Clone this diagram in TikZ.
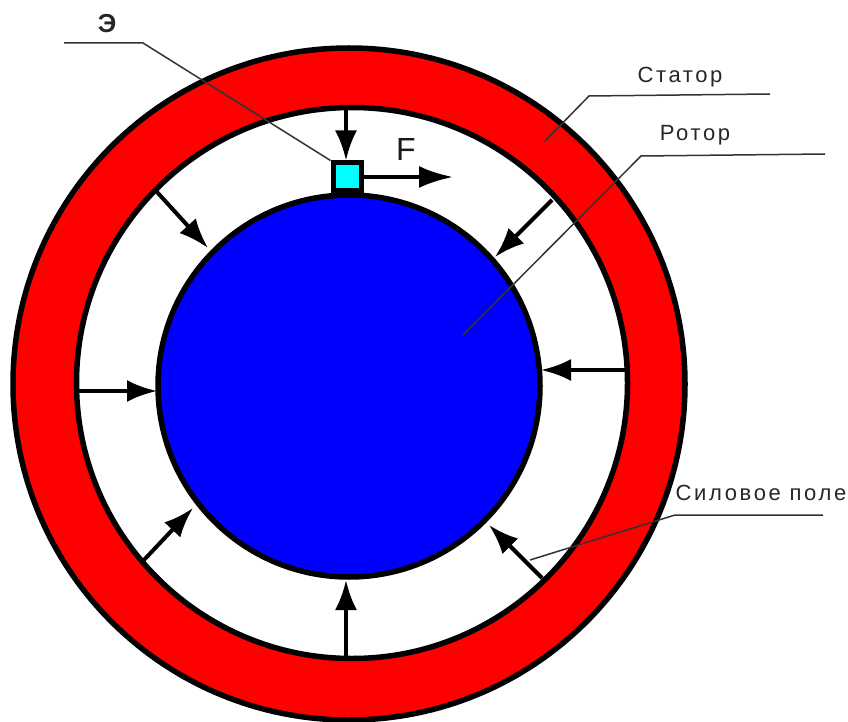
\documentclass[tikz,border=0pt]{standalone}
\usepackage{fontspec}
\setmainfont{Liberation Sans}
\newfontfamily\spacedfont[LetterSpace=12]{Liberation Sans}
\usepackage{xcolor}
\usetikzlibrary{arrows.meta,positioning}
\definecolor{statorred}{RGB}{255,0,0}
\definecolor{rotorblue}{RGB}{0,0,255}
\definecolor{elemcyan}{RGB}{0,255,255}
\tikzset{
  ring/.style={circle,draw=black,line width=5.5pt,inner sep=0pt},
  force/.style={-{Latex[length=30pt,width=22pt]},line width=4pt,draw=black},
  leader/.style={line width=1.5pt,draw=black!80},
  caption/.style={font=\fontsize{22}{24}\spacedfont,text=black!85,inner sep=0pt}
}
\begin{document}
\begin{tikzpicture}[x=1pt,y=-1pt]
\useasboundingbox (0,0) rectangle (848,722);
% Stator, air gap, rotor
\node[ring,fill=statorred,minimum size=672pt] (stator) at (349,384) {};
\node[ring,fill=white,minimum size=551pt] (gap) at (352,383) {};
\node[ring,fill=rotorblue,minimum size=382pt] (rotor) at (349,386) {};
% Element on the rotor
\node[draw=black,line width=5pt,fill=elemcyan,minimum size=28pt,inner sep=0pt] (elem) at (347,177) {};
% Force field arrows
\coordinate (t1) at (346,107);
\coordinate (t2) at (157,192);
\coordinate (r2) at (208,248);
\coordinate (t3) at (552,200);
\coordinate (r3) at (495,257);
\coordinate (t4) at (628,370);
\coordinate (r4) at (541,370);
\coordinate (t5) at (77,391);
\coordinate (r5) at (157,391);
\coordinate (t6) at (143,561);
\coordinate (r6) at (193,508);
\coordinate (t7) at (346,658);
\coordinate (r7) at (346,580);
\coordinate (t8) at (542,578);
\coordinate (r8) at (489,525);
\draw[force] (t1) -- (elem.north -| t1);
\draw[force] (t2) -- (r2);
\draw[force] (t3) -- (r3);
\draw[force] (t4) -- (r4);
\draw[force] (t5) -- (r5);
\draw[force] (t6) -- (r6);
\draw[force] (t7) -- (r7);
\draw[force] (t8) -- (r8);
% Tangential force
\coordinate (fend) at (453,177);
\draw[force,-{Latex[length=34pt,width=22pt]}] (elem.east) -- (fend);
\node[font=\fontsize{32}{34}\selectfont,text=black!90,inner sep=0pt] (flabel) at (406,149) {F};
% Leader lines with captions
\coordinate (e1) at (64,43);
\coordinate (e2) at (143,43);
\draw[leader] (e1) -- (e2) -- (elem.north west);
\node[caption,font=\fontsize{26}{28}\bfseries\selectfont] (elabel) at (107,24) {Э};
\coordinate (s1) at (770,94);
\coordinate (s2) at (589,96);
\coordinate (s3) at (545,141);
\draw[leader] (s1) -- (s2) -- (s3);
\node[caption] (slabel) at (680,77) {Статор};
\coordinate (p1) at (825,154);
\coordinate (p2) at (641,156);
\coordinate (p3) at (463,335);
\draw[leader] (p1) -- (p2) -- (p3);
\node[caption] (plabel) at (695,135) {Ротор};
\coordinate (f1) at (823,515);
\coordinate (f2) at (675,515);
\coordinate (f3) at (530,560);
\draw[leader] (f1) -- (f2) -- (f3);
\node[caption] (flabelb) at (761,493) {Силовое поле};
\end{tikzpicture}
\end{document}
